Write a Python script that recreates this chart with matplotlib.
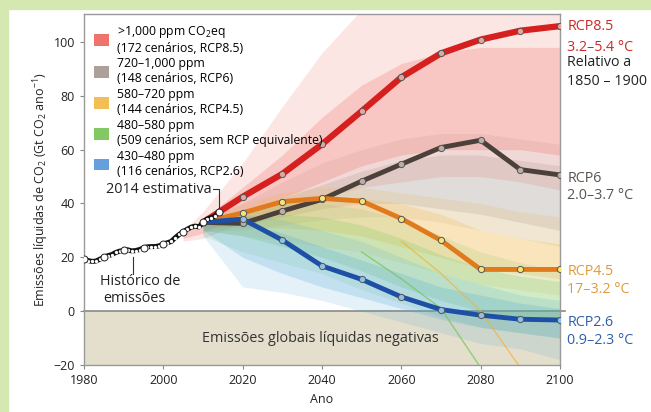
import matplotlib.pyplot as plt
from matplotlib.patches import Patch, Rectangle

plt.rcParams['font.family'] = ['Open Sans', 'DejaVu Sans']
plt.rcParams['mathtext.fontset'] = 'custom'
plt.rcParams['mathtext.rm'] = 'Open Sans'

# emissões históricas (Gt CO2/ano)
hist_years = list(range(1980, 2015))
hist_vals = [19.5, 18.8, 18.5, 18.6, 19.3, 20.0, 20.6, 21.0, 21.8, 22.3,
             22.6, 22.8, 22.4, 22.5, 22.9, 23.5, 23.9, 24.0, 24.0, 24.3,
             25.0, 25.4, 25.9, 27.3, 28.5, 29.5, 30.4, 31.2, 31.6, 31.3,
             33.0, 34.2, 34.7, 35.3, 36.8]
hist_big = [1980, 1985, 1990, 1995, 2000, 2005, 2010, 2014]

# trajetórias RCP
rcp_years = [2010, 2020, 2030, 2040, 2050, 2060, 2070, 2080, 2090, 2100]
rcp85 = [33.0, 42.5, 51.0, 62.0, 74.3, 86.9, 95.8, 100.9, 104.2, 105.9]
rcp6 = [33.0, 32.6, 37.2, 41.5, 48.3, 54.6, 60.8, 63.5, 52.6, 50.6]
rcp45 = [33.0, 36.5, 40.7, 41.9, 40.9, 34.4, 26.3, 15.5, 15.5, 15.5]
rcp26 = [33.0, 34.2, 26.4, 16.8, 11.8, 5.3, 0.6, -1.5, -3.0, -3.3]

# faixas dos cenários (envoltória externa e núcleo)
red_years = [2005, 2010, 2020, 2030, 2040, 2050, 2060, 2070, 2080, 2090, 2100]
red_lo = [26, 27, 33, 38, 42, 46, 48, 50, 50, 48, 45]
red_hi = [30, 37, 55, 76, 96, 112, 112, 112, 112, 112, 112]
red_clo = [27, 29, 36, 42, 48, 54, 58, 60, 60, 60, 58]
red_chi = [29, 34, 46, 58, 72, 84, 92, 96, 98, 98, 98]

fan_years = [2010, 2020, 2030, 2040, 2050, 2060, 2070, 2080, 2090, 2100]
gray_lo = [30, 30, 32, 34, 35, 35, 33, 30, 27, 24]
gray_hi = [34, 40, 48, 55, 60, 64, 66, 66, 64, 62]
gray_clo = [31, 32, 35, 38, 40, 40, 38, 36, 33, 30]
gray_chi = [33, 36, 42, 47, 52, 56, 58, 58, 56, 54]

orange_lo = [30, 28, 26, 24, 22, 18, 14, 10, 8, 6]
orange_hi = [34, 40, 44, 46, 46, 44, 42, 40, 37, 35]
orange_clo = [31, 31, 31, 30, 28, 24, 20, 16, 14, 12]
orange_chi = [33, 37, 40, 42, 42, 40, 36, 30, 27, 25]

green_lo = [28, 22, 18, 14, 8, 3, -2, -6, -8, -10]
green_hi = [34, 38, 40, 40, 38, 34, 28, 22, 18, 15]
green_clo = [30, 28, 24, 20, 15, 9, 4, 0, -2, -4]
green_chi = [33, 35, 36, 35, 32, 27, 21, 16, 13, 11]

blue_lo = [28, 9, 7, 4, 0, -4, -8, -12, -14, -18]
blue_hi = [34, 36, 34, 30, 26, 20, 14, 10, 6, 4]
blue_clo = [30, 20, 14, 9, 5, 1, -3, -6, -8, -10]
blue_chi = [33, 33, 29, 24, 19, 14, 9, 6, 3, 1]

# cenários isolados que caem abaixo de -20
green_out_x = [2050, 2060, 2070, 2080]
green_out_y = [22, 12, 1, -21]
orange_out_x = [2060, 2070, 2080, 2090]
orange_out_y = [26, 14, 0, -21]

fig = plt.figure(figsize=(6.51, 4.12), dpi=100)
fig.patch.set_facecolor('white')
fig.add_artist(Rectangle((0, 0), 8 / 651, 1, transform=fig.transFigure, color='#d6e8b2', zorder=0))
fig.add_artist(Rectangle((0, 1 - 9 / 412), 1, 9 / 412, transform=fig.transFigure, color='#d6e8b2', zorder=0))

ax = fig.add_axes([84 / 651, 47 / 412, 476 / 651, 351 / 412])
ax.set_xlim(1980, 2100)
ax.set_ylim(-20, 110.4)

# área de emissões negativas
ax.axhspan(-20, 0, color='#e3dfcc', zorder=0)
ax.plot([1980, 2101.3], [0, 0], color='#8a8a8a', lw=1.2, zorder=1, clip_on=False)
ax.text(2039.5, -10, 'Emissões globais líquidas negativas', ha='center', va='center',
        fontsize=10.4, color='#333333')

# faixas
fans = [
    (fan_years, gray_lo, gray_hi, gray_clo, gray_chi, '#a39a92'),
    (red_years, red_lo, red_hi, red_clo, red_chi, '#ec5a50'),
    (fan_years, orange_lo, orange_hi, orange_clo, orange_chi, '#f2b338'),
    (fan_years, green_lo, green_hi, green_clo, green_chi, '#74c454'),
    (fan_years, blue_lo, blue_hi, blue_clo, blue_chi, '#4aa6d6'),
]
for yrs, lo, hi, clo, chi, c in fans:
    ax.fill_between(yrs, lo, hi, color=c, alpha=0.15, lw=0, zorder=2)
    ax.fill_between(yrs, clo, chi, color=c, alpha=0.22, lw=0, zorder=2)
ax.plot(green_out_x, green_out_y, color='#74c454', lw=1, alpha=0.7, zorder=2)
ax.plot(orange_out_x, orange_out_y, color='#f2b338', lw=1, alpha=0.7, zorder=2)

# linhas RCP
rcps = [
    (rcp85, '#d61f1f', '#e2a6a0', 4.5),
    (rcp6, '#4b413a', '#b8b0a8', 3.5),
    (rcp45, '#e07a1c', '#f4e27a', 3.5),
    (rcp26, '#1d4fa6', '#8cc2e6', 3.5),
]
for vals, c, mc, lw in rcps:
    ax.plot(rcp_years, vals, color=c, lw=lw, solid_capstyle='butt', zorder=4)
    ax.plot(rcp_years[1:], vals[1:], ls='none', marker='o', ms=4.5,
            mfc=mc, mec='#555555', mew=0.7, zorder=5)

# histórico
ax.plot(hist_years, hist_vals, color='#111111', lw=3.6, zorder=6)
ax.plot(hist_years, hist_vals, ls='none', marker='o', ms=1.4, mfc='white', mec='white', zorder=7)
big_vals = [hist_vals[hist_years.index(y)] for y in hist_big]
ax.plot(hist_big, big_vals, ls='none', marker='o', ms=5, mfc='white', mec='#222222',
        mew=0.7, zorder=8)

# anotações
ax.text(2012.2, 45.3, '2014 estimativa', ha='right', va='center', fontsize=10.4, color='#222222')
ax.plot([2012.6, 2014, 2014], [45.3, 45.3, 38.5], color='#333333', lw=0.8, zorder=9)
ax.text(1984, 11.1, 'Histórico de', ha='left', va='center', fontsize=10.4, color='#222222')
ax.text(1984.8, 4.8, 'emissões', ha='left', va='center', fontsize=10.4, color='#222222')
ax.plot([1992.4, 1992.4], [13.8, 20.0], color='#333333', lw=0.8, zorder=9)

# rótulos à direita
lx = 2101.8
right_labels = [
    (105.6, 'RCP8.5', '#cc2a26'),
    (98.1, '3.2–5.4 °C', '#cc2a26'),
    (92.2, 'Relativo a', '#222222'),
    (85.5, '1850 – 1900', '#222222'),
    (49.4, 'RCP6', '#5a524c'),
    (43.1, '2.0–3.7 °C', '#5a524c'),
    (14.9, 'RCP4.5', '#e09a3a'),
    (8.2, '17–3.2 °C', '#e09a3a'),
    (-4.1, 'RCP2.6', '#2f5fa8'),
    (-10.8, '0.9–2.3 °C', '#2f5fa8'),
]
for y, t, c in right_labels:
    ax.text(lx, y, t, ha='left', va='center', fontsize=10.3, color=c, clip_on=False)

# legenda
handles = [Patch(facecolor='#ec5a50', alpha=0.85), Patch(facecolor='#9c9088', alpha=0.85),
           Patch(facecolor='#f2b338', alpha=0.85), Patch(facecolor='#6cc04a', alpha=0.85),
           Patch(facecolor='#4a90d6', alpha=0.85)]
labels = ['>1,000 ppm CO$_\\mathrm{2}$eq\n(172 cenários, RCP8.5)',
          '720–1,000 ppm\n(148 cenários, RCP6)',
          '580–720 ppm\n(144 cenários, RCP4.5)',
          '480–580 ppm\n(509 cenários, sem RCP equivalente)',
          '430–480 ppm\n(116 cenários, RCP2.6)']
ax.legend(handles, labels, loc='upper left', bbox_to_anchor=(0.0, 1.0), frameon=False,
          fontsize=8.8, handlelength=1.25, handleheight=1.1, handletextpad=0.65,
          labelspacing=0.22, borderaxespad=0.5, borderpad=0.3)

ax.set_xticks([1980, 2000, 2020, 2040, 2060, 2080, 2100])
ax.set_yticks([-20, 0, 20, 40, 60, 80, 100])
ax.set_yticklabels(['−20', '0', '20', '40', '60', '80', '100'])
ax.tick_params(direction='out', length=3, color='#888888', labelsize=9, labelcolor='#222222')
for s in ax.spines.values():
    s.set_color('#999999')
    s.set_linewidth(1)
ax.set_xlabel('Ano', fontsize=9, color='#222222', labelpad=4)
ax.set_ylabel('Emissões líquidas de CO$_\\mathrm{2}$ (Gt CO$_\\mathrm{2}$ ano$^{\\mathrm{-1}}$)',
              fontsize=9, color='#222222', labelpad=2)

fig.savefig('out.png', dpi=100)
